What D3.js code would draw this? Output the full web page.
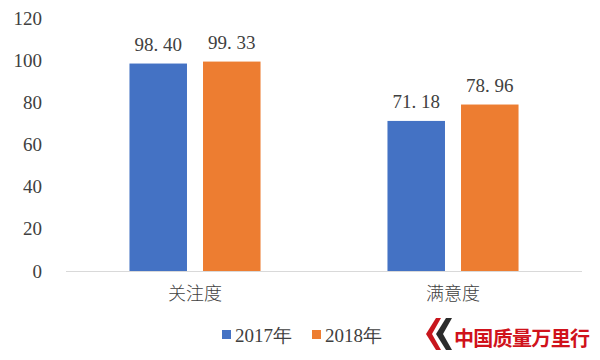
<!DOCTYPE html>
<html><head><meta charset="utf-8">
<script src="https://cdn.jsdelivr.net/npm/d3@7"></script>
<style>body{margin:0;background:#fff}</style>
</head><body>
<svg id="c" width="600" height="360"></svg>
<script>
const categories = ["关注度", "满意度"];
const seriesNames = ["2017年", "2018年"];
const values2017 = [98.40, 71.18];
const values2018 = [99.33, 78.96];
const yTicks = [0, 20, 40, 60, 80, 100, 120];
const colors = ["#4472C4", "#ED7D31"];
const seriesValues = [values2017, values2018];

const svg = d3.select("#c");
const numFont = "Liberation Serif, DejaVu Serif, serif";
const cjkFont = "Noto Sans CJK SC, sans-serif";

const y = d3.scaleLinear().domain([0, 120]).range([271, 18]);
const x0 = d3.scaleBand().domain(categories).range([66, 582]).paddingInner(0.492).paddingOuter(0.246);
const x1 = d3.scaleBand().domain(seriesNames).range([0, x0.bandwidth()]).paddingInner(0.218);

// y axis
const yAxis = d3.axisLeft(y).tickValues(yTicks).tickSize(0).tickPadding(0).tickFormat(d3.format("d"));
const ga = svg.append("g").attr("transform", "translate(42,0)").call(yAxis);
ga.select(".domain").remove();
ga.selectAll("text").attr("font-family", numFont).attr("font-size", 19).attr("fill", "#404040");

// bars
categories.forEach((c, ci) => {
  seriesNames.forEach((s, si) => {
    const v = seriesValues[si][ci];
    svg.append("rect")
      .attr("x", x0(c) + x1(s)).attr("y", y(v))
      .attr("width", x1.bandwidth()).attr("height", y(0) - y(v))
      .attr("fill", colors[si]);
    svg.append("text")
      .attr("x", x0(c) + x1(s) + x1.bandwidth() / 2).attr("y", y(v) - 13)
      .attr("text-anchor", "middle").attr("font-family", numFont).attr("font-size", 19)
      .attr("fill", "#404040").text(v.toFixed(2).replace(".", ". "));
  });
});

// baseline
svg.append("line").attr("x1", 66).attr("x2", 582).attr("y1", y(0) + 0.5).attr("y2", y(0) + 0.5)
  .attr("stroke", "#d9d9d9").attr("stroke-width", 1);

// x axis labels
const xAxis = d3.axisBottom(x0).tickSize(0).tickPadding(0);
const gx = svg.append("g").attr("transform", "translate(0,287)").call(xAxis);
gx.select(".domain").remove();
gx.selectAll("text").attr("font-family", cjkFont).attr("font-weight", 300).attr("font-size", 18).attr("fill", "#404040");

// legend
const legendX = [222, 312];
seriesNames.forEach((s, i) => {
  svg.append("rect").attr("x", legendX[i]).attr("y", 330).attr("width", 9).attr("height", 9).attr("fill", colors[i]);
  svg.append("text").attr("x", legendX[i] + 13).attr("y", 342)
    .attr("font-family", numFont).attr("font-size", 19).attr("fill", "#404040").text(s);
});

// watermark logo
const lg = svg.append("g");
lg.append("path").attr("d", "M436,318 L426,334 L436,350 L441,350 L432,334 L441,318 Z").attr("fill", "#c8161d");
lg.append("path").attr("d", "M446,318 L436,334 L446,350 L452,350 L443,334 L452,318 Z").attr("fill", "#2b2b2b");
lg.append("text").attr("x", 454).attr("y", 346).attr("font-family", cjkFont).attr("font-weight", "bold")
  .attr("font-size", 20).attr("fill", "#d0121b").attr("textLength", 136).text("中国质量万里行");
</script>
</body></html>
